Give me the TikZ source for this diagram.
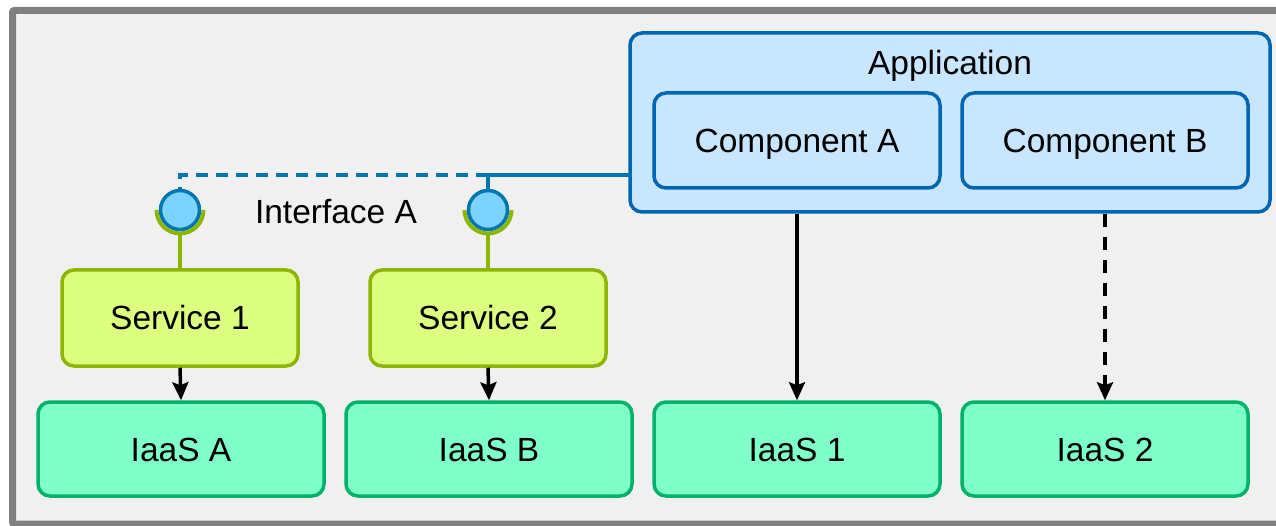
\documentclass[tikz,border=0pt]{standalone}
\usepackage{fontspec}
\setmainfont{Liberation Sans}
\usetikzlibrary{arrows.meta}
\definecolor{framegray}{RGB}{128,128,128}
\definecolor{framebg}{RGB}{240,240,240}
\definecolor{appfill}{RGB}{200,230,255}
\definecolor{appdraw}{RGB}{0,102,179}
\definecolor{lolfill}{RGB}{125,211,255}
\definecolor{loldraw}{RGB}{0,119,176}
\definecolor{svcfill}{RGB}{221,255,128}
\definecolor{svcdraw}{RGB}{141,182,0}
\definecolor{iaasfill}{RGB}{127,255,202}
\definecolor{iaasdraw}{RGB}{0,179,106}
\tikzset{
  txt/.style={font=\fontsize{33.5}{40}\selectfont, text=black, inner sep=0pt, text height=24pt, text depth=0pt},
  rbox/.style={rounded corners=12pt, line width=3.5pt, inner sep=0pt, font=\fontsize{33.5}{40}\selectfont, text height=24pt, text depth=0pt},
  appbox/.style={rbox, fill=appfill, draw=appdraw, minimum width=640pt, minimum height=179pt},
  compbox/.style={rbox, fill=appfill, draw=appdraw, minimum width=286pt, minimum height=95pt},
  svcbox/.style={rbox, fill=svcfill, draw=svcdraw, minimum width=236pt, minimum height=96pt},
  iaasbox/.style={rbox, fill=iaasfill, draw=iaasdraw, minimum width=286pt, minimum height=94pt},
  lolli/.style={circle, fill=lolfill, draw=loldraw, line width=3.5pt, minimum size=39pt, inner sep=0pt},
  cup/.style={draw=svcdraw, line width=4pt},
  blueline/.style={draw=loldraw, line width=3.5pt},
  arr/.style={draw=black, line width=3.5pt, -{Stealth[length=18pt,width=16pt,inset=3pt]}},
}
\begin{document}
\begin{tikzpicture}[x=1pt,y=-1pt]
\useasboundingbox (0,0) rectangle (1276,526);
\draw[line width=7pt, draw=framegray, fill=framebg, rounded corners=2pt] (12.5,10.5) rectangle (1295,524);
% application
\node[appbox] (app) at (950,122.5) {};
\node[txt] (apptitle) at (950,63) {Application};
\node[compbox] (compA) at (797,140.5) {Component A};
\node[compbox] (compB) at (1105,140.5) {Component B};
% services
\node[svcbox] (s1) at (180,318) {Service 1};
\node[svcbox] (s2) at (488,318) {Service 2};
% iaas
\node[iaasbox] (ia) at (181,449) {IaaS A};
\node[iaasbox] (ib) at (489,449) {IaaS B};
\node[iaasbox] (i1) at (797,449) {IaaS 1};
\node[iaasbox] (i2) at (1105,449) {IaaS 2};
% interfaces
\node[lolli] (l1) at (180,210) {};
\node[lolli] (l2) at (488,210) {};
\draw[cup] ([xshift=-23.5pt]l1.center) arc[start angle=180, end angle=360, radius=23.5pt];
\draw[cup] ([xshift=-23.5pt]l2.center) arc[start angle=180, end angle=360, radius=23.5pt];
\draw[cup] ([yshift=-23.5pt]l1.center) -- (s1.north);
\draw[cup] ([yshift=-23.5pt]l2.center) -- (s2.north);
\node[txt] (ifa) at (336,212) {Interface A};
\coordinate (port) at (631.5,175);
\draw[blueline] (port) -| (l2.north);
\draw[blueline, dash pattern=on 12pt off 8pt] (l2.north |- port) -| (l1.north);
% arrows
\draw[arr] (s1.south) -- (ia.north);
\draw[arr] (s2.south) -- (ib.north);
\draw[arr] (compA.south |- app.south) -- (i1.north);
\draw[arr, dash pattern=on 13pt off 10pt] (compB.south |- app.south) -- (i2.north);
\end{tikzpicture}
\end{document}
